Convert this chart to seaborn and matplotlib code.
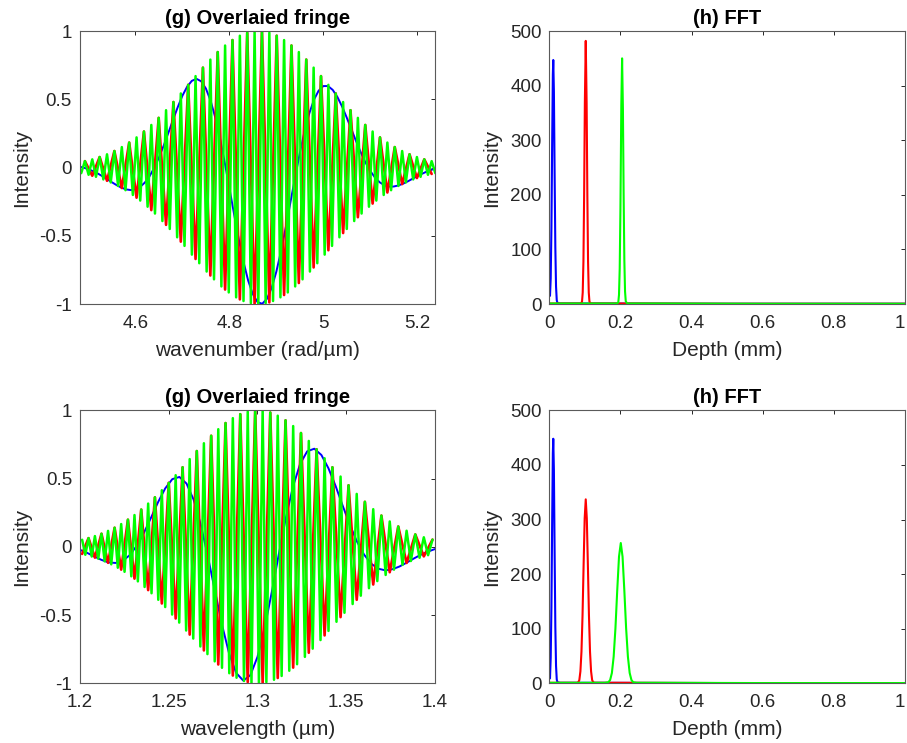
import matplotlib
matplotlib.use("Agg")
import matplotlib.pyplot as plt
import seaborn as sns

# ---------------- data ----------------
# (g) top: fringes vs wavenumber (rad/um) -- extrema of each fringe
green_k = [4.4846, 4.4924, 4.5003, 4.5081, 4.5160, 4.5238, 4.5317, 4.5395, 4.5474, 4.5552,
           4.5631, 4.5710, 4.5788, 4.5867, 4.5945, 4.6024, 4.6102, 4.6181, 4.6259, 4.6338,
           4.6416, 4.6495, 4.6574, 4.6652, 4.6731, 4.6809, 4.6888, 4.6966, 4.7045, 4.7123,
           4.7202, 4.7280, 4.7359, 4.7437, 4.7516, 4.7595, 4.7673, 4.7752, 4.7830, 4.7909,
           4.7987, 4.8066, 4.8144, 4.8223, 4.8301, 4.8380, 4.8458, 4.8537, 4.8616, 4.8694,
           4.8773, 4.8851, 4.8930, 4.9008, 4.9087, 4.9165, 4.9244, 4.9322, 4.9401, 4.9479,
           4.9558, 4.9637, 4.9715, 4.9794, 4.9872, 4.9951, 5.0029, 5.0108, 5.0186, 5.0265,
           5.0343, 5.0422, 5.0500, 5.0579, 5.0658, 5.0736, 5.0815, 5.0893, 5.0972, 5.1050,
           5.1129, 5.1207, 5.1286, 5.1364, 5.1443, 5.1521, 5.1600, 5.1679, 5.1757, 5.1836,
           5.1914, 5.1993, 5.2071, 5.2150, 5.2228, 5.2307, 5.2385]
green_k_val = [-0.041, 0.047, -0.053, 0.060, -0.068, 0.077, -0.087, 0.097, -0.109, 0.121,
               -0.135, 0.150, -0.166, 0.183, -0.201, 0.221, -0.242, 0.264, -0.287, 0.312,
               -0.337, 0.364, -0.392, 0.420, -0.450, 0.480, -0.511, 0.543, -0.574, 0.606,
               -0.638, 0.670, -0.701, 0.732, -0.762, 0.791, -0.819, 0.846, -0.871, 0.894,
               -0.915, 0.934, -0.951, 0.966, -0.978, 0.988, -0.994, 0.999, -1.000, 0.999,
               -0.994, 0.988, -0.978, 0.966, -0.951, 0.934, -0.915, 0.894, -0.871, 0.846,
               -0.819, 0.791, -0.762, 0.732, -0.701, 0.670, -0.638, 0.606, -0.574, 0.543,
               -0.511, 0.480, -0.450, 0.420, -0.392, 0.364, -0.337, 0.312, -0.287, 0.264,
               -0.242, 0.221, -0.201, 0.183, -0.166, 0.150, -0.135, 0.121, -0.109, 0.097,
               -0.087, 0.077, -0.068, 0.060, -0.053, 0.047, -0.041]
red_k = [4.4924, 4.5081, 4.5238, 4.5395, 4.5552, 4.5710, 4.5867, 4.6024, 4.6181, 4.6338,
         4.6495, 4.6652, 4.6809, 4.6966, 4.7123, 4.7280, 4.7437, 4.7595, 4.7752, 4.7909,
         4.8066, 4.8223, 4.8380, 4.8537, 4.8694, 4.8851, 4.9008, 4.9165, 4.9322, 4.9479,
         4.9637, 4.9794, 4.9951, 5.0108, 5.0265, 5.0422, 5.0579, 5.0736, 5.0893, 5.1050,
         5.1207, 5.1364, 5.1521, 5.1679, 5.1836, 5.1993, 5.2150, 5.2307]
red_k_val = [0.047, -0.060, 0.077, -0.097, 0.121, -0.150, 0.183, -0.221, 0.264, -0.312,
             0.364, -0.420, 0.480, -0.543, 0.606, -0.670, 0.732, -0.791, 0.846, -0.894,
             0.934, -0.966, 0.988, -0.999, 0.999, -0.988, 0.966, -0.934, 0.894, -0.846,
             0.791, -0.732, 0.670, -0.606, 0.543, -0.480, 0.420, -0.364, 0.312, -0.264,
             0.221, -0.183, 0.150, -0.121, 0.097, -0.077, 0.060, -0.047]
blue_k = [4.48, 4.49, 4.50, 4.51, 4.52, 4.53, 4.54, 4.55, 4.56, 4.57, 4.58, 4.59, 4.60,
          4.61, 4.62, 4.63, 4.64, 4.65, 4.66, 4.67, 4.68, 4.69, 4.70, 4.71, 4.72, 4.73,
          4.74, 4.75, 4.76, 4.77, 4.78, 4.79, 4.80, 4.81, 4.82, 4.83, 4.84, 4.85, 4.86,
          4.87, 4.88, 4.89, 4.90, 4.91, 4.92, 4.93, 4.94, 4.95, 4.96, 4.97, 4.98, 4.99,
          5.00, 5.01, 5.02, 5.03, 5.04, 5.05, 5.06, 5.07, 5.08, 5.09, 5.10, 5.11, 5.12,
          5.13, 5.14, 5.15, 5.16, 5.17, 5.18, 5.19, 5.20, 5.21, 5.22, 5.23, 5.24]
blue_k_val = [0.007, -0.001, -0.012, -0.027, -0.044, -0.064, -0.086, -0.108, -0.129, -0.147,
              -0.160, -0.165, -0.159, -0.142, -0.110, -0.064, -0.002, 0.073, 0.159, 0.253,
              0.349, 0.442, 0.526, 0.592, 0.635, 0.650, 0.632, 0.579, 0.490, 0.366,
              0.214, 0.039, -0.149, -0.341, -0.525, -0.690, -0.828, -0.928, -0.986, -0.998,
              -0.962, -0.882, -0.763, -0.612, -0.440, -0.255, -0.070, 0.106, 0.263, 0.395,
              0.496, 0.563, 0.597, 0.597, 0.569, 0.517, 0.447, 0.365, 0.279, 0.191,
              0.109, 0.036, -0.025, -0.073, -0.108, -0.129, -0.139, -0.139, -0.131, -0.118,
              -0.101, -0.082, -0.063, -0.046, -0.030, -0.017, -0.006]

# (g) bottom: fringes vs wavelength (um)
green_wl = [1.2012, 1.2030, 1.2048, 1.2066, 1.2084, 1.2103, 1.2121, 1.2139, 1.2158, 1.2176,
            1.2195, 1.2213, 1.2232, 1.2251, 1.2270, 1.2289, 1.2307, 1.2326, 1.2345, 1.2364,
            1.2384, 1.2403, 1.2422, 1.2441, 1.2461, 1.2480, 1.2500, 1.2519, 1.2539, 1.2559,
            1.2578, 1.2598, 1.2618, 1.2638, 1.2658, 1.2678, 1.2698, 1.2718, 1.2739, 1.2759,
            1.2779, 1.2800, 1.2820, 1.2841, 1.2861, 1.2882, 1.2903, 1.2924, 1.2945, 1.2966,
            1.2987, 1.3008, 1.3029, 1.3050, 1.3072, 1.3093, 1.3114, 1.3136, 1.3158, 1.3179,
            1.3201, 1.3223, 1.3245, 1.3267, 1.3289, 1.3311, 1.3333, 1.3355, 1.3378, 1.3400,
            1.3422, 1.3445, 1.3468, 1.3490, 1.3513, 1.3536, 1.3559, 1.3582, 1.3605, 1.3628,
            1.3652, 1.3675, 1.3698, 1.3722, 1.3745, 1.3769, 1.3793, 1.3817, 1.3840, 1.3864,
            1.3889, 1.3913, 1.3937, 1.3961, 1.3986]
green_wl_val = [0.052, -0.058, 0.064, -0.071, 0.079, -0.087, 0.096, -0.106, 0.117, -0.128,
                0.140, -0.153, 0.167, -0.183, 0.199, -0.216, 0.233, -0.253, 0.273, -0.294,
                0.317, -0.340, 0.363, -0.388, 0.415, -0.441, 0.469, -0.496, 0.525, -0.555,
                0.583, -0.613, 0.643, -0.672, 0.702, -0.730, 0.759, -0.786, 0.814, -0.839,
                0.862, -0.886, 0.907, -0.926, 0.943, -0.959, 0.972, -0.983, 0.991, -0.997,
                1.000, -1.000, 0.998, -0.992, 0.984, -0.974, 0.961, -0.946, 0.927, -0.908,
                0.885, -0.860, 0.834, -0.806, 0.776, -0.746, 0.715, -0.683, 0.649, -0.616,
                0.583, -0.549, 0.515, -0.483, 0.451, -0.419, 0.388, -0.358, 0.330, -0.303,
                0.276, -0.251, 0.229, -0.206, 0.186, -0.167, 0.149, -0.132, 0.118, -0.104,
                0.091, -0.080, 0.070, -0.061, 0.053]
red_wl = [1.2012, 1.2048, 1.2084, 1.2121, 1.2158, 1.2195, 1.2232, 1.2270, 1.2307, 1.2345,
          1.2384, 1.2422, 1.2461, 1.2500, 1.2539, 1.2578, 1.2618, 1.2658, 1.2698, 1.2739,
          1.2779, 1.2820, 1.2861, 1.2903, 1.2945, 1.2987, 1.3029, 1.3072, 1.3114, 1.3158,
          1.3201, 1.3245, 1.3289, 1.3333, 1.3378, 1.3422, 1.3468, 1.3513, 1.3559, 1.3605,
          1.3652, 1.3698, 1.3745, 1.3793, 1.3840, 1.3889, 1.3937, 1.3986]
red_wl_val = [-0.052, 0.064, -0.079, 0.096, -0.117, 0.140, -0.167, 0.199, -0.233, 0.273,
              -0.317, 0.363, -0.415, 0.469, -0.525, 0.583, -0.643, 0.702, -0.759, 0.814,
              -0.862, 0.907, -0.943, 0.972, -0.991, 1.000, -0.998, 0.984, -0.961, 0.927,
              -0.885, 0.834, -0.776, 0.715, -0.649, 0.583, -0.515, 0.451, -0.388, 0.330,
              -0.276, 0.229, -0.186, 0.149, -0.118, 0.091, -0.070, 0.053]
blue_wl = [1.200, 1.204, 1.208, 1.212, 1.216, 1.220, 1.224, 1.228, 1.232, 1.236, 1.240,
           1.244, 1.248, 1.252, 1.256, 1.260, 1.264, 1.268, 1.272, 1.276, 1.280, 1.284,
           1.288, 1.292, 1.296, 1.300, 1.304, 1.308, 1.312, 1.316, 1.320, 1.324, 1.328,
           1.332, 1.336, 1.340, 1.344, 1.348, 1.352, 1.356, 1.360, 1.364, 1.368, 1.372,
           1.376, 1.380, 1.384, 1.388, 1.392, 1.396, 1.400]
blue_wl_val = [-0.022, -0.044, -0.070, -0.095, -0.114, -0.118, -0.103, -0.061, 0.008, 0.102,
               0.213, 0.328, 0.428, 0.496, 0.512, 0.464, 0.346, 0.164, -0.067, -0.322,
               -0.571, -0.781, -0.924, -0.980, -0.940, -0.806, -0.595, -0.335, -0.054, 0.214,
               0.441, 0.607, 0.700, 0.719, 0.673, 0.575, 0.446, 0.301, 0.162, 0.040,
               -0.056, -0.123, -0.160, -0.172, -0.164, -0.144, -0.116, -0.086, -0.058, -0.035,
               -0.016]

# (h) top FFT (depth in mm)
fft1_blue_d = [0.002, 0.004, 0.006, 0.008, 0.010, 0.0112, 0.013, 0.015, 0.017, 0.019, 0.021,
               0.023, 0.030, 0.100, 0.500, 1.000]
fft1_blue_v = [15, 47, 139, 287, 420, 447, 389, 239, 104, 32, 7, 2, 1, 1, 0.5, 0.5]
fft1_red_d = [0.000, 0.050, 0.088, 0.092, 0.094, 0.096, 0.098, 0.100, 0.1025, 0.105, 0.107,
              0.109, 0.111, 0.113, 0.117, 0.200, 0.500, 1.000]
fft1_red_v = [1, 1, 1, 4, 21, 78, 201, 368, 482, 368, 201, 78, 21, 4, 1, 1, 0.5, 0.5]
fft1_green_d = [0.000, 0.100, 0.190, 0.194, 0.196, 0.198, 0.200, 0.2025, 0.2047, 0.207, 0.209,
                0.211, 0.213, 0.215, 0.219, 0.300, 0.600, 1.000]
fft1_green_v = [1, 1, 1, 3, 17, 65, 173, 365, 450, 358, 202, 81, 23, 5, 1, 1, 0.5, 0.5]

# (h) bottom FFT
fft2_blue_d = [0.002, 0.004, 0.006, 0.008, 0.010, 0.0112, 0.013, 0.015, 0.017, 0.019, 0.021,
               0.023, 0.030, 0.100, 0.500, 1.000]
fft2_blue_v = [9, 47, 139, 288, 421, 448, 390, 240, 104, 32, 7, 2, 1, 1, 0.5, 0.5]
fft2_red_d = [0.000, 0.050, 0.0775, 0.0815, 0.0845, 0.0875, 0.0905, 0.0935, 0.0965, 0.0995,
              0.1025, 0.1055, 0.1085, 0.1115, 0.1145, 0.1175, 0.1205, 0.1235, 0.1275, 0.200,
              0.500, 1.000]
fft2_red_v = [1, 1, 1, 2, 6, 22, 58, 125, 217, 302, 337, 302, 217, 125, 58, 22, 6, 2, 1, 1,
              0.5, 0.5]
fft2_green_d = [0.000, 0.100, 0.156, 0.166, 0.171, 0.176, 0.181, 0.186, 0.191, 0.196, 0.201,
                0.206, 0.211, 0.216, 0.221, 0.226, 0.231, 0.236, 0.246, 0.300, 0.600, 1.000]
fft2_green_v = [1, 1, 1, 2, 6, 19, 49, 101, 170, 232, 257, 232, 170, 101, 49, 19, 6, 2, 1, 1,
                0.5, 0.5]

# ticks / labels
fringe_yticks = [-1, -0.5, 0, 0.5, 1]
fringe_ylabels = ["-1", "-0.5", "0", "0.5", "1"]
k_ticks = [4.6, 4.8, 5.0, 5.2]
k_labels = ["4.6", "4.8", "5", "5.2"]
wl_ticks = [1.2, 1.25, 1.3, 1.35, 1.4]
wl_labels = ["1.2", "1.25", "1.3", "1.35", "1.4"]
depth_ticks = [0, 0.2, 0.4, 0.6, 0.8, 1.0]
depth_labels = ["0", "0.2", "0.4", "0.6", "0.8", "1"]
fft_yticks = [0, 100, 200, 300, 400, 500]
fft_ylabels = ["0", "100", "200", "300", "400", "500"]

title_fringe = "(g) Overlaied fringe"
title_fft = "(h) FFT"

# ---------------- style ----------------
sns.set_theme(style="white")
plt.rcParams["font.family"] = ["Liberation Sans", "DejaVu Sans"]
plt.rcParams["axes.unicode_minus"] = False

TXT = "#262626"
SPINE = "#5a5a5a"
BLUE, RED, GREEN = "#0000ff", "#ff0000", "#00ff00"

fig = plt.figure(figsize=(9.07, 7.43), dpi=100)
ax_tl = fig.add_axes([0.0877, 0.5908, 0.3920, 0.3674])
ax_tr = fig.add_axes([0.6056, 0.5908, 0.3922, 0.3674])
ax_bl = fig.add_axes([0.0882, 0.0803, 0.3914, 0.3674])
ax_br = fig.add_axes([0.6056, 0.0803, 0.3922, 0.3674])


def draw(ax, x, y, color, lw):
    sns.lineplot(x=x, y=y, color=color, linewidth=lw, ax=ax, estimator=None,
                 errorbar=None, legend=False)


def style(ax, xlim, ylim, xt, xl, yt, yl, xlabel, ylabel, title, ylab_x):
    ax.set_xlim(*xlim)
    ax.set_ylim(*ylim)
    ax.set_xticks(xt)
    ax.set_xticklabels(xl)
    ax.set_yticks(yt)
    ax.set_yticklabels(yl)
    ax.tick_params(axis="both", direction="in", top=True, right=True, length=2.6,
                   width=0.7, colors=TXT, labelsize=13.5, labelcolor=TXT)
    ax.tick_params(axis="x", pad=8.0)
    ax.tick_params(axis="y", pad=5.6)
    for s in ax.spines.values():
        s.set_visible(True)
        s.set_color(SPINE)
        s.set_linewidth(0.8)
    ax.set_xlabel(xlabel, fontsize=15, color=TXT)
    ax.set_ylabel(ylabel, fontsize=15, color=TXT)
    ax.xaxis.set_label_coords(0.5, -0.135)
    ax.yaxis.set_label_coords(ylab_x, 0.5)
    ax.set_title(title, fontsize=14.5, fontweight="bold", color="black", pad=5)
    ax.grid(False)


# top-left fringes
draw(ax_tl, blue_k, blue_k_val, BLUE, 1.4)
draw(ax_tl, red_k, red_k_val, RED, 1.9)
draw(ax_tl, green_k, green_k_val, GREEN, 1.8)
style(ax_tl, (4.481, 5.238), (-1, 1), k_ticks, k_labels, fringe_yticks, fringe_ylabels,
      "wavenumber (rad/µm)", "Intensity", title_fringe, -0.1375)

# bottom-left fringes
draw(ax_bl, blue_wl, blue_wl_val, BLUE, 1.4)
draw(ax_bl, red_wl, red_wl_val, RED, 1.9)
draw(ax_bl, green_wl, green_wl_val, GREEN, 1.8)
style(ax_bl, (1.2, 1.4), (-1, 1), wl_ticks, wl_labels, fringe_yticks, fringe_ylabels,
      "wavelength (µm)", "Intensity", title_fringe, -0.1375)

# top-right FFT
draw(ax_tr, fft1_blue_d, fft1_blue_v, BLUE, 1.5)
draw(ax_tr, fft1_red_d, fft1_red_v, RED, 1.5)
draw(ax_tr, fft1_green_d, fft1_green_v, GREEN, 1.5)
style(ax_tr, (0, 1), (0, 500), depth_ticks, depth_labels, fft_yticks, fft_ylabels,
      "Depth (mm)", "Intensity", title_fft, -0.134)

# bottom-right FFT
draw(ax_br, fft2_blue_d, fft2_blue_v, BLUE, 1.5)
draw(ax_br, fft2_red_d, fft2_red_v, RED, 1.5)
draw(ax_br, fft2_green_d, fft2_green_v, GREEN, 1.5)
style(ax_br, (0, 1), (0, 500), depth_ticks, depth_labels, fft_yticks, fft_ylabels,
      "Depth (mm)", "Intensity", title_fft, -0.134)

# keep the last depth label ("1") inside the figure edge
for ax in (ax_tr, ax_br):
    ax.get_xticklabels()[-1].set_horizontalalignment("right")

fig.savefig("out.png", dpi=100, facecolor="white")
